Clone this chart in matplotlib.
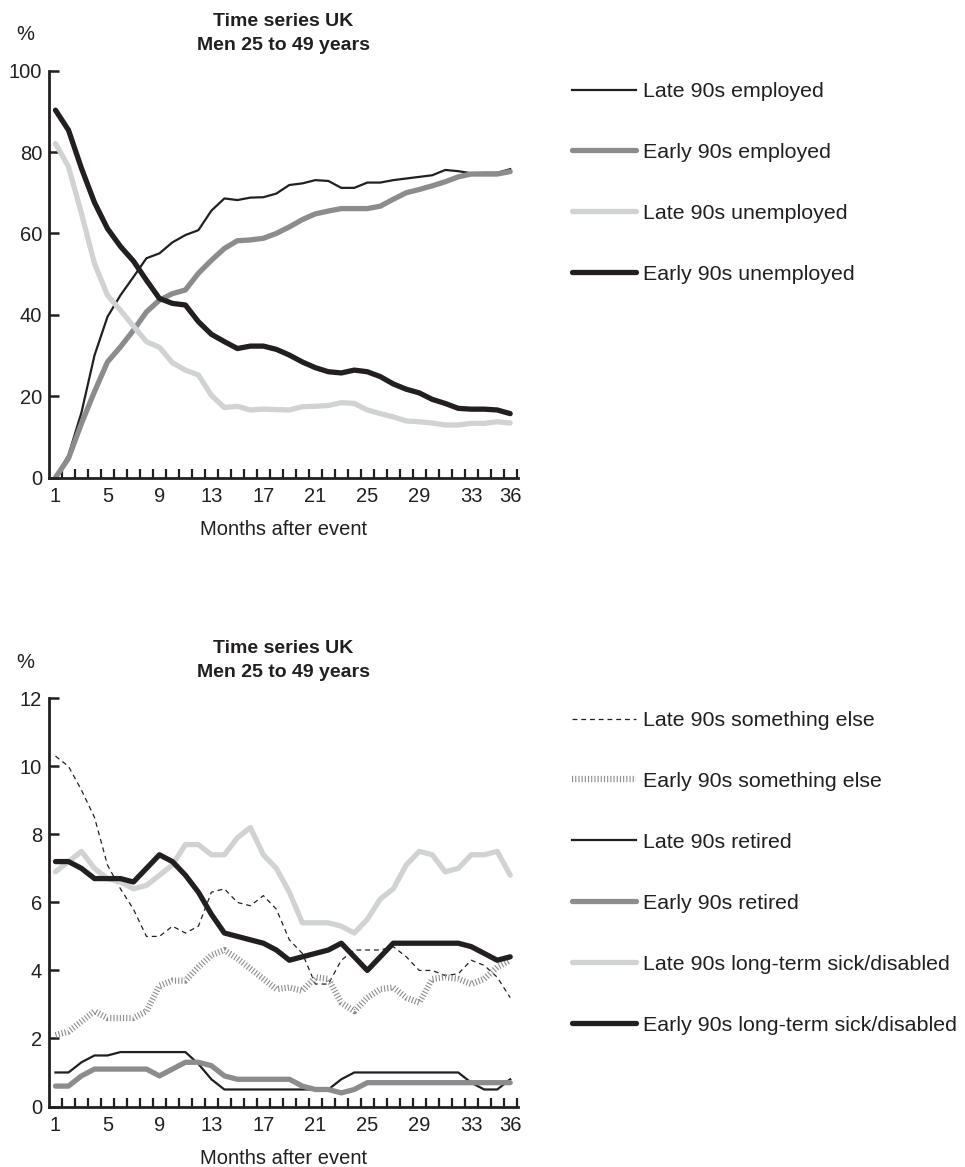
import numpy as np
import matplotlib
matplotlib.use("Agg")
import matplotlib.pyplot as plt

plt.rcParams["font.family"] = ["Liberation Sans", "DejaVu Sans"]
plt.rcParams["lines.scale_dashes"] = False

INK = "#231f20"
DARK_GREY = "#8c8c8e"
LIGHT_GREY = "#d1d2d4"

months = np.arange(1, 37)
month_labels = [1, 5, 9, 13, 17, 21, 25, 29, 33, 36]

# top chart: employed / unemployed (%)
late_employed = [0, 5.5, 16, 30, 39.5, 44.8, 49.3, 53.9, 55.1, 57.8, 59.6, 60.8,
                 65.6, 68.6, 68.2, 68.8, 68.9, 69.8, 71.9, 72.3, 73.1, 72.9, 71.2, 71.2,
                 72.5, 72.5, 73.1, 73.5, 73.9, 74.3, 75.6, 75.3, 74.8, 74.9, 74.9, 75.8]
early_employed = [0, 4.7, 13.3, 21.1, 28.4, 32.1, 36.2, 40.7, 43.6, 45.2, 46.1, 50.2,
                  53.4, 56.3, 58.2, 58.4, 58.8, 60.0, 61.6, 63.4, 64.8, 65.5, 66.1, 66.1,
                  66.1, 66.7, 68.4, 70.0, 70.8, 71.7, 72.7, 73.9, 74.6, 74.6, 74.6, 75.2]
late_unemployed = [82.1, 76.4, 64.9, 52.6, 44.8, 41.1, 37.2, 33.4, 32.0, 28.2, 26.4, 25.2,
                   20.2, 17.2, 17.5, 16.6, 16.8, 16.7, 16.6, 17.4, 17.5, 17.7, 18.4, 18.2,
                   16.6, 15.7, 14.9, 13.9, 13.7, 13.4, 12.9, 12.9, 13.3, 13.3, 13.7, 13.4]
early_unemployed = [90.3, 85.4, 76.0, 67.6, 61.2, 56.8, 53.2, 48.5, 44.0, 42.8, 42.4, 38.3,
                    35.2, 33.4, 31.7, 32.3, 32.3, 31.5, 30.1, 28.4, 27.0, 26.0, 25.7, 26.4,
                    26.0, 24.8, 23.0, 21.7, 20.8, 19.2, 18.2, 17.0, 16.8, 16.8, 16.6, 15.7]

# bottom chart: other outcomes (%)
late_else = [10.3, 10.0, 9.3, 8.5, 7.1, 6.4, 5.8, 5.0, 5.0, 5.3, 5.1, 5.3,
             6.3, 6.4, 6.0, 5.9, 6.2, 5.8, 4.9, 4.5, 3.6, 3.6, 4.3, 4.6,
             4.6, 4.6, 4.7, 4.4, 4.0, 4.0, 3.85, 3.9, 4.3, 4.15, 3.8, 3.2]
early_else = [2.1, 2.2, 2.5, 2.8, 2.6, 2.6, 2.6, 2.8, 3.55, 3.7, 3.7, 4.1,
              4.45, 4.6, 4.35, 4.05, 3.75, 3.45, 3.5, 3.4, 3.8, 3.75, 3.05, 2.8,
              3.2, 3.45, 3.5, 3.2, 3.05, 3.75, 3.8, 3.75, 3.6, 3.75, 4.1, 4.3]
late_retired = [1.0, 1.0, 1.3, 1.5, 1.5, 1.6, 1.6, 1.6, 1.6, 1.6, 1.6, 1.25,
                0.8, 0.5, 0.5, 0.5, 0.5, 0.5, 0.5, 0.5, 0.5, 0.5, 0.8, 1.0,
                1.0, 1.0, 1.0, 1.0, 1.0, 1.0, 1.0, 1.0, 0.7, 0.5, 0.5, 0.8]
early_retired = [0.6, 0.6, 0.9, 1.1, 1.1, 1.1, 1.1, 1.1, 0.9, 1.1, 1.3, 1.3,
                 1.2, 0.9, 0.8, 0.8, 0.8, 0.8, 0.8, 0.6, 0.5, 0.5, 0.4, 0.5,
                 0.7, 0.7, 0.7, 0.7, 0.7, 0.7, 0.7, 0.7, 0.7, 0.7, 0.7, 0.7]
late_sick = [6.9, 7.2, 7.5, 7.0, 6.7, 6.6, 6.4, 6.5, 6.8, 7.1, 7.7, 7.7,
             7.4, 7.4, 7.9, 8.2, 7.4, 7.0, 6.3, 5.4, 5.4, 5.4, 5.3, 5.1,
             5.5, 6.1, 6.4, 7.1, 7.5, 7.4, 6.9, 7.0, 7.4, 7.4, 7.5, 6.8]
early_sick = [7.2, 7.2, 7.0, 6.7, 6.7, 6.7, 6.6, 7.0, 7.4, 7.2, 6.8, 6.3,
              5.65, 5.1, 5.0, 4.9, 4.8, 4.6, 4.3, 4.4, 4.5, 4.6, 4.8, 4.4,
              4.0, 4.4, 4.8, 4.8, 4.8, 4.8, 4.8, 4.8, 4.7, 4.5, 4.3, 4.4]

W, H = 965, 1167
fig = plt.figure(figsize=(W / 100, H / 100), dpi=100)


def style_axes(ax, ymax, ystep):
    for side in ["top", "right"]:
        ax.spines[side].set_visible(False)
    for side in ["left", "bottom"]:
        ax.spines[side].set_linewidth(2.0)
        ax.spines[side].set_color(INK)
    ax.set_xlim(0.5, 36.6)
    ax.set_ylim(0, ymax)
    ax.set_yticks(np.arange(0, ymax + 0.1, ystep))
    ax.set_xticks(month_labels)
    ax.set_xticks(np.arange(1.5, 37, 1), minor=True)
    ax.tick_params(axis="x", which="major", length=0, pad=7, labelsize=14.5, colors=INK)
    ax.tick_params(axis="x", which="minor", direction="in", length=6.5, width=1.6, color=INK)
    ax.tick_params(axis="y", direction="in", length=7, width=1.8, pad=5, labelsize=14.5, colors=INK)
    ax.set_xlabel("Months after event", fontsize=14.5, color=INK, labelpad=10)
    ax.text(-0.05, 1.088, "%", transform=ax.transAxes, fontsize=14.5, color=INK,
            ha="center", va="center")
    ax.set_title("Time series UK\nMen 25 to 49 years", fontsize=14, fontweight="bold",
                 color=INK, pad=15, linespacing=1.55)


def add_legend(ax, top_px):
    leg = ax.legend(loc="upper left", bbox_to_anchor=(572 / W, 1 - top_px / H),
                    bbox_transform=fig.transFigure, frameon=False, fontsize=15.4,
                    handlelength=3.0, handletextpad=0.33, labelspacing=1.96,
                    borderpad=0, borderaxespad=0)
    for t in leg.get_texts():
        t.set_color(INK)


# top panel
ax1 = fig.add_axes([49 / W, 1 - 477.5 / H, 469 / W, 406.8 / H])
thin = dict(lw=1.6, solid_joinstyle="round")
thick = dict(lw=3.8, solid_capstyle="round", solid_joinstyle="round")
ax1.plot(months, late_employed, color=INK, label="Late 90s employed", **thin)
ax1.plot(months, early_employed, color=DARK_GREY, label="Early 90s employed", **thick)
ax1.plot(months, late_unemployed, color=LIGHT_GREY, label="Late 90s unemployed", **thick)
ax1.plot(months, early_unemployed, color=INK, label="Early 90s unemployed", **thick)
style_axes(ax1, 100, 20)
add_legend(ax1, 82)

# bottom panel
ax2 = fig.add_axes([49 / W, 1 - 1106.5 / H, 469 / W, 408.2 / H])
ax2.plot(months, late_else, color=INK, lw=0.9, linestyle=(0, (3.5, 2.8)),
         label="Late 90s something else")
ax2.plot(months, early_else, color=DARK_GREY, lw=4.5, linestyle=(0, (0.8, 1.5)),
         dash_capstyle="butt", label="Early 90s something else")
ax2.plot(months, late_retired, color=INK, label="Late 90s retired", **thin)
ax2.plot(months, early_retired, color=DARK_GREY, label="Early 90s retired", **thick)
ax2.plot(months, late_sick, color=LIGHT_GREY, label="Late 90s long-term sick/disabled", **thick)
ax2.plot(months, early_sick, color=INK, label="Early 90s long-term sick/disabled", **thick)
style_axes(ax2, 12, 2)
add_legend(ax2, 711)

fig.savefig("out.png", dpi=100)
